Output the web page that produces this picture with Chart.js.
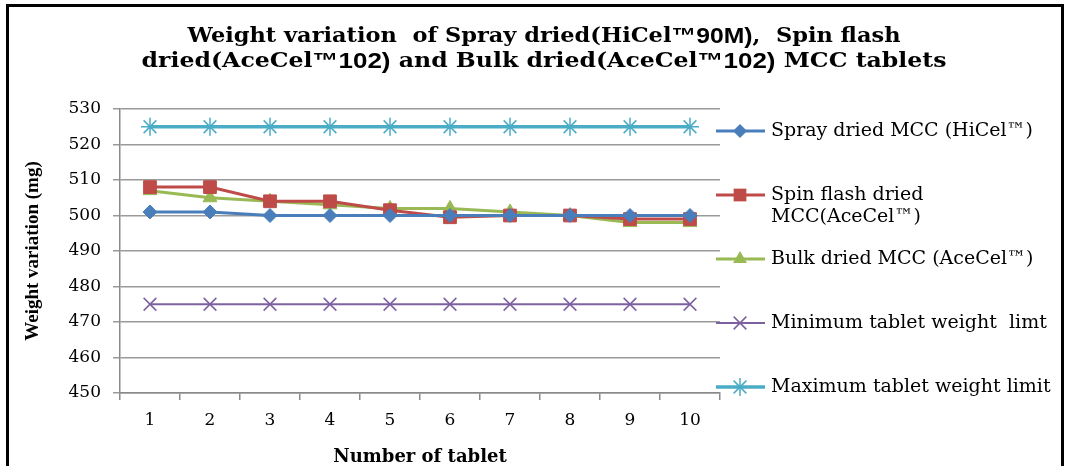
<!DOCTYPE html>
<html>
<head>
<meta charset="utf-8">
<script src="https://cdn.jsdelivr.net/npm/chart.js@4.4.0/dist/chart.umd.min.js"></script>
<style>
  body { margin: 0; background: #fff; }
</style>
</head>
<body>
<canvas id="mychart" width="1069" height="466"></canvas>
<script>
const tablets = ['1', '2', '3', '4', '5', '6', '7', '8', '9', '10'];
const sprayDried = [501, 501, 500, 500, 500, 500, 500, 500, 500, 500];
const spinFlash = [508, 508, 504, 504, 501.5, 499.5, 500, 500, 499, 499];
const bulkDried = [507, 505, 504, 503, 502, 502, 501, 500, 498, 498];
const minLimit = [475, 475, 475, 475, 475, 475, 475, 475, 475, 475];
const maxLimit = [525, 525, 525, 525, 525, 525, 525, 525, 525, 525];
const seriesNames = [
    'Spray dried MCC (HiCel\u2122)',
    'Spin flash dried\nMCC(AceCel\u2122)',
    'Bulk dried MCC (AceCel\u2122)',
    'Minimum tablet weight  limt',
    'Maximum tablet weight limit'
];
const yTicks = [450, 460, 470, 480, 490, 500, 510, 520, 530];

const serif = '"DejaVu Serif", serif';
const narrowSerif = '"Liberation Serif", "Times New Roman", serif';
const sans = '"Liberation Sans", Arial, sans-serif';

// title pieces: [text, font]
const titleLines = [
    [['Weight variation  of Spray dried(HiCel', 'serif'], ['\u212290M)', 'sans'], [',  Spin flash', 'serif']],
    [['dried(AceCel', 'serif'], ['\u2122102)', 'sans'], [' and Bulk dried(AceCel', 'serif'], ['\u2122102)', 'sans'], [' MCC tablets', 'serif']]
];
const titleWidths = [713, 805];

const styles = [
    { color: '#4a7ebb', point: 'rectRot', radius: 7, width: 3 },
    { color: '#be4b48', point: 'rect', radius: 9, width: 3 },
    { color: '#98b954', point: 'triangle', radius: 8, width: 3 },
    { color: '#7d60a0', point: 'crossRot', radius: 9, width: 2 },
    { color: '#4bacc6', point: 'star', radius: 9, width: 3.5 }
];
const seriesData = [sprayDried, spinFlash, bulkDried, minLimit, maxLimit];

function drawMarker(ctx, style, x, y) {
    ctx.fillStyle = style.color;
    ctx.strokeStyle = style.color;
    const r = style.radius;
    ctx.beginPath();
    if (style.point == 'rectRot') {
        ctx.moveTo(x, y - r); ctx.lineTo(x + r, y); ctx.lineTo(x, y + r); ctx.lineTo(x - r, y);
        ctx.closePath(); ctx.fill();
    } else if (style.point == 'rect') {
        const s = r * Math.SQRT1_2;
        ctx.rect(x - s, y - s, 2 * s, 2 * s); ctx.fill();
    } else if (style.point == 'triangle') {
        ctx.moveTo(x, y - r); ctx.lineTo(x + r * 0.87, y + r * 0.5); ctx.lineTo(x - r * 0.87, y + r * 0.5);
        ctx.closePath(); ctx.fill();
    } else {
        const d = r * Math.SQRT1_2;
        ctx.lineWidth = 1.5;
        ctx.moveTo(x - d, y - d); ctx.lineTo(x + d, y + d);
        ctx.moveTo(x - d, y + d); ctx.lineTo(x + d, y - d);
        if (style.point == 'star') {
            ctx.moveTo(x, y - r); ctx.lineTo(x, y + r);
        }
        ctx.stroke();
    }
}

function partFont(kind) {
    return kind == 'sans' ? 'bold 22px ' + sans : 'bold 20px ' + serif;
}

const decor = {
    id: 'decor',
    afterDraw(chart) {
        const ctx = chart.ctx;
        ctx.save();
        // frame
        ctx.strokeStyle = '#000';
        ctx.lineWidth = 3;
        ctx.strokeRect(7.5, 5.5, 1055, 500);

        // title (stretched sideways like the original)
        ctx.fillStyle = '#000';
        ctx.textBaseline = 'middle';
        ctx.textAlign = 'left';
        const titleY = [37, 62];
        for (let i = 0; i < titleLines.length; i++) {
            let total = 0;
            for (const part of titleLines[i]) {
                ctx.font = partFont(part[1]);
                total += ctx.measureText(part[0]).width;
            }
            const sx = titleWidths[i] / total;
            ctx.save();
            ctx.translate(544 - titleWidths[i] / 2, titleY[i]);
            ctx.scale(sx, 1);
            let x = 0;
            for (const part of titleLines[i]) {
                ctx.font = partFont(part[1]);
                ctx.fillText(part[0], x, 0);
                x += ctx.measureText(part[0]).width;
            }
            ctx.restore();
        }

        // legend
        ctx.font = '19px ' + serif;
        for (let i = 0; i < seriesNames.length; i++) {
            const y = 131 + i * 64;
            const st = styles[i];
            ctx.strokeStyle = st.color;
            ctx.lineWidth = st.width;
            ctx.beginPath();
            ctx.moveTo(716, y);
            ctx.lineTo(765, y);
            ctx.stroke();
            drawMarker(ctx, st, 740, y);
            ctx.fillStyle = '#000';
            const lines = seriesNames[i].split('\n');
            for (let j = 0; j < lines.length; j++) {
                ctx.fillText(lines[j], 771, y + j * 22);
            }
        }
        ctx.restore();
    }
};

const ctx = document.getElementById('mychart');
const datasets = [];
for (let i = 0; i < seriesData.length; i++) {
    datasets.push({
        label: seriesNames[i].replace('\n', ' '),
        data: seriesData[i],
        borderColor: styles[i].color,
        backgroundColor: styles[i].color,
        borderWidth: styles[i].width,
        pointStyle: styles[i].point,
        pointRadius: styles[i].radius,
        pointBorderWidth: (styles[i].point == 'crossRot' || styles[i].point == 'star') ? 1.5 : 1,
        pointBorderColor: styles[i].color,
        tension: 0,
        fill: false
    });
}

new Chart(ctx, {
    type: 'line',
    data: { labels: tablets, datasets: datasets },
    options: {
        responsive: false,
        animation: false,
        layout: { padding: { left: 0, right: 349, top: 109, bottom: 0 } },
        plugins: {
            legend: { display: false },
            title: { display: false },
            tooltip: { enabled: false }
        },
        scales: {
            x: {
                type: 'category',
                offset: true,
                grid: { offset: true, drawOnChartArea: false, tickLength: 7, color: '#8a8a8a', lineWidth: 1.5 },
                border: { color: '#8a8a8a', width: 1.5 },
                ticks: { color: '#000', padding: 10, font: { family: serif, size: 17 }, maxRotation: 0 },
                title: { display: true, text: 'Number of tablet', color: '#000', font: { family: serif, size: 18, weight: 'bold', lineHeight: 1 }, padding: 0 },
                afterFit(scale) { scale.height = 73; }
            },
            y: {
                min: 450,
                max: 530,
                afterBuildTicks(scale) { scale.ticks = yTicks.map(v => ({ value: v })); },
                grid: { tickLength: 7, color: '#9a9a9a', lineWidth: 1.5 },
                border: { color: '#8a8a8a', width: 1.5 },
                ticks: { color: '#000', padding: 12, font: { family: serif, size: 17 } },
                title: { display: true, text: 'Weight variation (mg)', color: '#000', font: { family: narrowSerif, size: 19, weight: 'bold', lineHeight: 1 }, padding: { top: 24, bottom: 0 } },
                afterFit(scale) { scale.width = 120; }
            }
        }
    },
    plugins: [decor]
});
</script>
</body>
</html>
